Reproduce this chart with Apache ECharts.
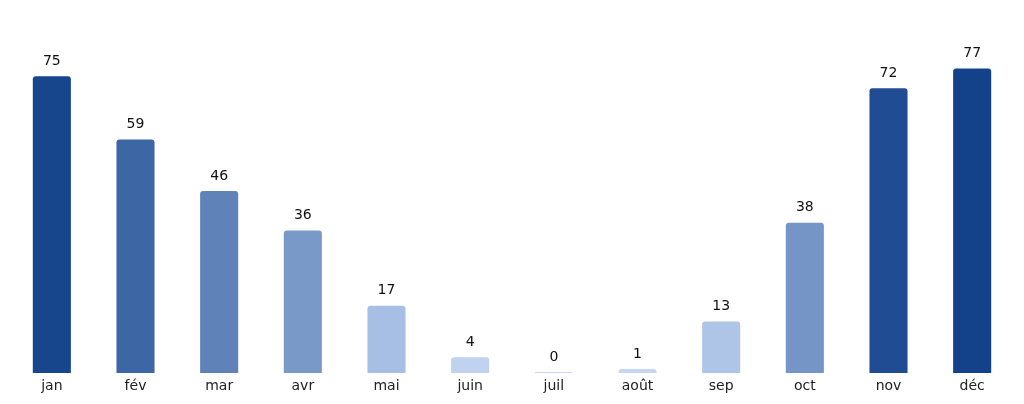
<!DOCTYPE html>
<html><head><meta charset="utf-8">
<script src="https://cdn.jsdelivr.net/npm/echarts@6/dist/echarts.min.js"></script>
<style>html,body{margin:0;padding:0;background:#fff}#c{width:1024px;height:404px}</style>
</head><body><div id="c"></div>
<script>
var categories = ['jan','fév','mar','avr','mai','juin','juil','août','sep','oct','nov','déc'];
var values = [75,59,46,36,17,4,0,1,13,38,72,77];
var colorStops = ['#C8D8F4','#A3BCE2','#7394C5','#4068A7','#13428A'];
var chart = echarts.init(document.getElementById('c'));
chart.setOption({
  animation: false,
  textStyle: {fontFamily: 'DejaVu Sans'},
  grid: {left: 10, right: 10, top: 17, bottom: 31, containLabel: false},
  visualMap: {show: false, type: 'continuous', min: 0, max: 77, dimension: 1, inRange: {color: colorStops}},
  xAxis: {
    type: 'category', data: categories,
    axisLine: {show: false}, axisTick: {show: false},
    axisLabel: {fontSize: 14, color: '#222', margin: 6, fontFamily: 'DejaVu Sans'}
  },
  yAxis: {type: 'value', min: 0, max: 90, show: false, splitLine: {show: false}},
  series: [{
    type: 'bar', data: values, barWidth: '45.5%', barMinHeight: 1,
    itemStyle: {borderRadius: [3,3,0,0]},
    label: {show: true, position: 'top', distance: 8, fontSize: 14, color: '#111', fontFamily: 'DejaVu Sans'}
  }]
});
</script></body></html>
